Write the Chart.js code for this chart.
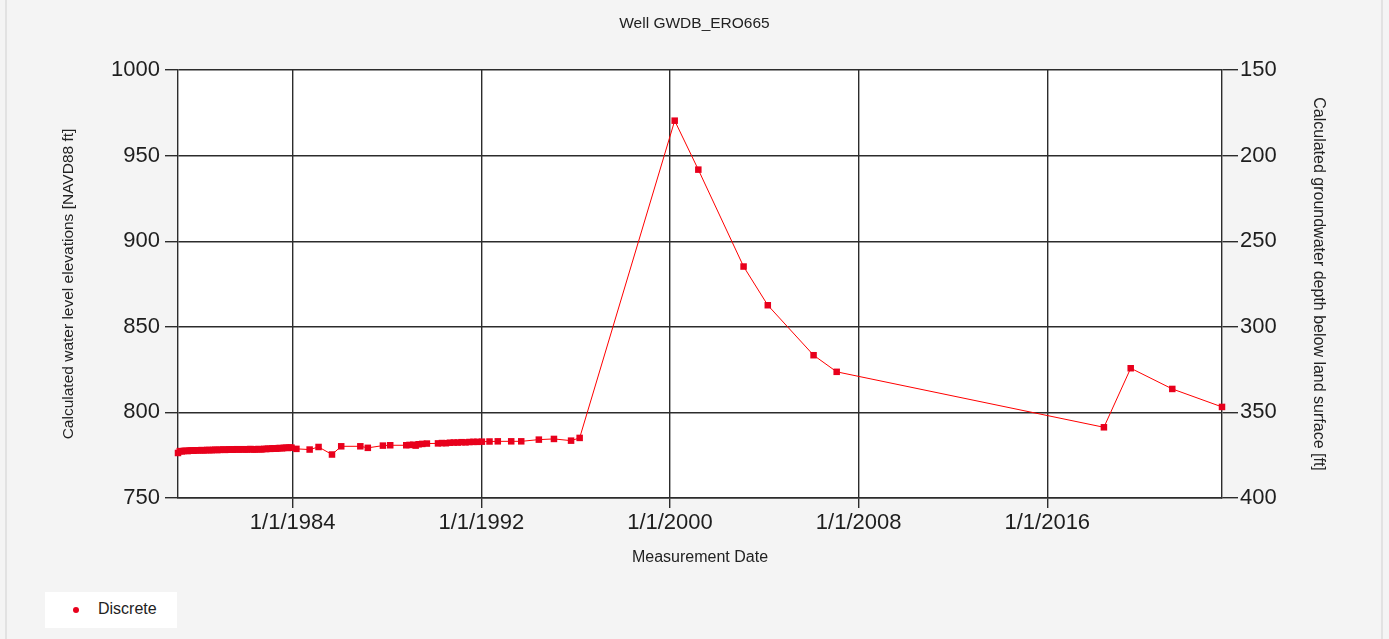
<!DOCTYPE html>
<html>
<head>
<meta charset="utf-8">
<title>Well GWDB_ERO665</title>
<script src="https://cdn.jsdelivr.net/npm/chart.js@4.4.0/dist/chart.umd.min.js"></script>
<style>
  html, body { margin: 0; padding: 0; background: #f4f4f4; }
  #wrap { position: relative; width: 1389px; height: 639px; }
  .edge { position: absolute; top: 0; width: 2px; height: 639px; background: #e2e2e2; }
  #legend {
    position: absolute; left: 45px; top: 592px; width: 132px; height: 36px;
    background: #fff; font: 16px 'Liberation Sans', Arial, sans-serif; color: #222;
  }
  #legend .dot {
    position: absolute; left: 28px; top: 15px; width: 6px; height: 6px;
    border-radius: 3px; background: #e8001c;
  }
  #legend .lbl { position: absolute; left: 53px; top: 8px; }
</style>
</head>
<body>
<div id="wrap">
  <canvas id="myChart" width="1389" height="639"></canvas>
  <div class="edge" style="left:5px"></div>
  <div class="edge" style="left:1381px"></div>
  <div id="legend"><span class="dot"></span><span class="lbl">Discrete</span></div>
</div>
<script>
document.addEventListener("DOMContentLoaded", function() {

    // discrete measurements
    const dates = [
        '1979-02-20', '1979-03-20', '1979-04-18', '1979-05-22', '1979-06-20', '1979-07-19',
        '1979-08-21', '1979-09-20', '1979-10-18', '1979-11-20', '1979-12-19', '1980-01-22',
        '1980-02-20', '1980-03-19', '1980-04-22', '1980-05-21', '1980-06-19', '1980-07-22',
        '1980-08-20', '1980-09-18', '1980-10-21', '1980-11-19', '1980-12-17', '1981-01-21',
        '1981-02-18', '1981-03-18', '1981-04-21', '1981-05-20', '1981-06-17', '1981-07-21',
        '1981-08-19', '1981-09-16', '1981-10-20', '1981-11-18', '1981-12-16', '1982-01-20',
        '1982-02-17', '1982-03-17', '1982-04-21', '1982-05-19', '1982-06-16', '1982-07-21',
        '1982-08-18', '1982-09-15', '1982-10-20', '1982-11-17', '1982-12-15', '1983-01-19',
        '1983-02-16', '1983-03-16', '1983-04-20', '1983-05-18', '1983-06-15', '1983-07-20',
        '1983-08-17', '1983-09-21', '1983-10-19', '1983-11-16', '1983-12-14',
        '1984-02-28', '1984-09-20', '1985-02-05', '1985-09-01', '1986-01-22', '1986-11-14',
        '1987-03-10', '1987-10-30', '1988-02-20', '1988-10-25', '1988-12-15', '1989-02-10',
        '1989-03-20', '1989-05-05', '1989-07-01', '1989-09-10', '1990-03-01', '1990-05-01',
        '1990-07-01', '1990-09-01', '1990-11-01', '1991-01-01', '1991-03-01', '1991-05-01',
        '1991-07-01', '1991-09-01', '1991-11-01', '1992-01-10', '1992-05-07', '1992-09-12',
        '1993-04-08', '1993-09-10', '1994-06-10', '1995-01-30', '1995-10-22', '1996-03-03',
        '2000-03-14', '2001-03-15', '2003-02-14', '2004-02-24', '2006-02-02', '2007-01-26',
        '2018-05-27', '2019-07-16', '2021-04-20', '2023-05-30'
    ];
    const elevations = [
        776.3, 777.4, 777.2, 777.5, 777.6, 777.4,
        777.7, 777.8, 777.6, 777.9, 777.8, 777.9,
        778.0, 777.8, 777.9, 778.1, 778.0, 777.9,
        778.1, 778.2, 778.0, 778.1, 778.2, 778.3,
        778.1, 778.2, 778.4, 778.3, 778.2, 778.4,
        778.5, 778.3, 778.4, 778.5, 778.4, 778.3,
        778.5, 778.6, 778.4, 778.3, 778.5, 778.6,
        778.4, 778.5, 778.7, 778.6, 778.8, 778.7,
        778.9, 779.0, 778.8, 779.1, 779.2, 779.0,
        779.3, 779.4, 779.2, 779.5, 779.4,
        778.7, 778.3, 779.8, 775.4, 780.2, 780.2,
        779.3, 780.6, 780.8, 780.8, 781.0, 781.1,
        780.6, 781.4, 781.6, 781.8, 781.9, 782.1,
        782.0, 782.3, 782.4, 782.4, 782.6, 782.5,
        782.7, 782.8, 782.8, 782.9, 783.0, 783.1,
        783.1, 783.1, 784.1, 784.5, 783.5, 785.1,
        970.4, 941.8, 885.2, 862.6, 833.4, 823.7,
        791.3, 825.8, 813.7, 803.2
    ];

    const yearTicks = [1984, 1992, 2000, 2008, 2016];
    const elevRange = [750, 1000];
    const depthRange = [150, 400];

    const points = dates.map((d, i) => ({ x: Date.parse(d), y: elevations[i] }));

    const fontFamily = "'Liberation Sans', Arial, sans-serif";
    const gridColor = '#2c2c2c';
    const gridWidth = 1.4;

    // grey page, white plot area
    const plotBackground = {
        id: 'plotBackground',
        beforeDraw(chart) {
            const { ctx, chartArea: a } = chart;
            ctx.save();
            ctx.fillStyle = '#f4f4f4';
            ctx.fillRect(0, 0, chart.width, chart.height);
            ctx.fillStyle = '#ffffff';
            ctx.fillRect(a.left, a.top, a.right - a.left, a.bottom - a.top);
            ctx.restore();
        }
    };

    const plainNumber = v => String(v);

    const config = {
        type: 'line',
        data: {
            datasets: [{
                label: 'Discrete',
                data: points,
                borderColor: '#ff0000',
                borderWidth: 1,
                backgroundColor: '#e8001c',
                pointStyle: 'rect',
                pointRadius: 4.6,
                pointBorderWidth: 0,
                tension: 0,
                clip: false,
                yAxisID: 'y'
            }]
        },
        options: {
            responsive: false,
            animation: false,
            layout: { padding: 0 },
            scales: {
                x: {
                    type: 'linear',
                    min: points[0].x,
                    max: points[points.length - 1].x,
                    afterBuildTicks: function(scale) {
                        scale.ticks = yearTicks.map(y => ({ value: Date.UTC(y, 0, 1) }));
                    },
                    afterFit: function(scale) { scale.height = 141; },
                    ticks: {
                        autoSkip: false,
                        maxRotation: 0,
                        padding: 2,
                        color: '#1e1e1e',
                        font: { family: fontFamily, size: 22 },
                        callback: function(v) {
                            const d = new Date(v);
                            return (d.getUTCMonth() + 1) + '/' + d.getUTCDate() + '/' + d.getUTCFullYear();
                        }
                    },
                    grid: { color: gridColor, lineWidth: gridWidth, tickLength: 10 },
                    border: { color: gridColor, width: gridWidth },
                    title: {
                        display: true,
                        text: 'Measurement Date',
                        color: '#222',
                        font: { family: fontFamily, size: 16 },
                        padding: { top: 0, bottom: 72 }
                    }
                },
                y: {
                    position: 'left',
                    min: elevRange[0],
                    max: elevRange[1],
                    afterFit: function(scale) { scale.width = 178; },
                    ticks: {
                        stepSize: 50,
                        padding: 5,
                        color: '#1e1e1e',
                        font: { family: fontFamily, size: 22 },
                        callback: plainNumber
                    },
                    grid: { color: gridColor, lineWidth: gridWidth, tickLength: 13 },
                    border: { color: gridColor, width: gridWidth },
                    title: {
                        display: true,
                        text: 'Calculated water level elevations [NAVD88 ft]',
                        color: '#222',
                        font: { family: fontFamily, size: 15.5 },
                        padding: { top: 59, bottom: 0 }
                    }
                },
                y1: {
                    position: 'right',
                    reverse: true,
                    min: depthRange[0],
                    max: depthRange[1],
                    afterFit: function(scale) { scale.width = 167; },
                    ticks: {
                        stepSize: 50,
                        padding: 2,
                        color: '#1e1e1e',
                        font: { family: fontFamily, size: 22 },
                        callback: plainNumber
                    },
                    grid: { drawOnChartArea: false, color: gridColor, lineWidth: gridWidth, tickLength: 16 },
                    border: { color: gridColor, width: gridWidth },
                    title: {
                        display: true,
                        text: 'Calculated groundwater depth below land surface [ft]',
                        color: '#222',
                        font: { family: fontFamily, size: 16 },
                        padding: { top: 61, bottom: 0 }
                    }
                }
            },
            plugins: {
                title: {
                    display: true,
                    text: 'Well GWDB_ERO665',
                    color: '#222',
                    font: { family: fontFamily, size: 15.5, weight: 'normal' },
                    padding: { top: 14, bottom: 37.4 }
                },
                legend: { display: false },
                tooltip: { enabled: false }
            }
        },
        plugins: [plotBackground]
    };

    new Chart(document.getElementById('myChart'), config);
});
</script>
</body>
</html>
